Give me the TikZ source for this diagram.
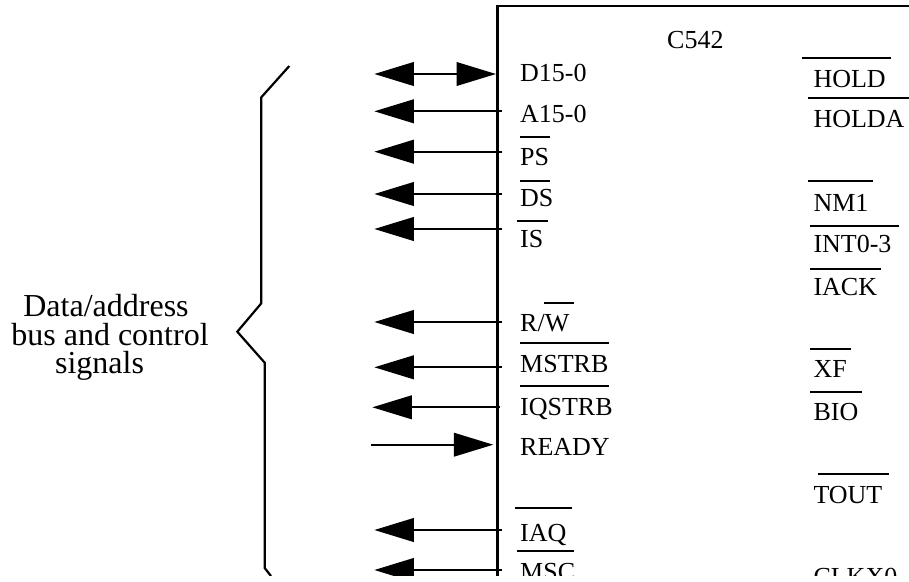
\documentclass[tikz,border=0pt]{standalone}
\usepackage{fontspec}
\setmainfont{Liberation Serif}
\usetikzlibrary{arrows.meta}
\tikzset{
  x=1pt,y=-1pt,
  pinlabel/.style={anchor=base west,inner sep=0pt,font=\fontsize{26}{30}\selectfont,text=black},
  grouplabel/.style={anchor=base,inner sep=0pt,font=\fontsize{32}{36}\selectfont,text=black},
  bar/.style={line width=2.3pt,line cap=butt},
  wire/.style={line width=2.3pt,line cap=butt},
  outp/.style={wire,-{Triangle[length=39.5pt,width=23.5pt]}},
  biwire/.style={wire,{Triangle[length=39.5pt,width=23.5pt]}-{Triangle[length=39.5pt,width=23.5pt]}},
  chip/.style={line width=2.4pt,line join=miter},
  brace/.style={line width=2.2pt,line join=miter}
}
\begin{document}
\begin{tikzpicture}
\useasboundingbox (0,0) rectangle (909,581);
\clip (0,0) rectangle (909,575);
% chip outline
\draw[chip] (909,6) -- (497.3,6) -- (497.3,581);
% brace
\draw[brace] (289.3,66) -- (261.3,97.3) -- (261.3,303.3) -- (237.3,331.7) -- (264.7,362.7) -- (264.7,568) -- (271,576);
% text
\node[pinlabel] at (667,48.3) {C542};
\node[pinlabel] (d) at (520,81) {D15-0};
\node[pinlabel] (a) at (520,122.7) {A15-0};
\node[pinlabel] (ps) at (520,165) {PS};
\node[pinlabel] (ds) at (520,206.7) {DS};
\node[pinlabel] (is) at (520,247.7) {IS};
\node[pinlabel] (rw) at (520,331) {R/W};
\node[pinlabel] (mstrb) at (520,372.7) {MSTRB};
\node[pinlabel] (iqstrb) at (520,415) {IQSTRB};
\node[pinlabel] (ready) at (520,455.7) {READY};
\node[pinlabel] (iaq) at (520,541.7) {IAQ};
\node[pinlabel] (msc) at (520,580.5) {MSC};
\node[pinlabel] at (813.3,87.3) {HOLD};
\node[pinlabel] at (813.3,127.7) {HOLDA};
\node[pinlabel] at (813.3,211.7) {NM1};
\node[pinlabel] at (813.3,252.7) {INT0-3};
\node[pinlabel] at (813.3,295) {IACK};
\node[pinlabel] at (813.3,377.7) {XF};
\node[pinlabel] at (813.3,420) {BIO};
\node[pinlabel] at (813.3,503.3) {TOUT};
\node[pinlabel] at (813.3,585.5) {CLKX0};
\node[grouplabel] at (106,316) {Data/address};
\node[grouplabel] at (110,345.7) {bus and control};
\node[grouplabel] at (99.5,373) {signals};
% overbars
\draw[bar] (520,137.3) -- (550,137.3);
\draw[bar] (520,181) -- (550,181);
\draw[bar] (517,220.7) -- (547.7,220.7);
\draw[bar] (544.3,303.3) -- (574,303.3);
\draw[bar] (520,343.3) -- (609,343.3);
\draw[bar] (520,386) -- (609,386);
\draw[bar] (515,508.3) -- (572,508.3);
\draw[bar] (517,551) -- (574,551);
\draw[bar] (802,58.3) -- (891,58.3);
\draw[bar] (808,98) -- (909,98);
\draw[bar] (808,180.7) -- (873,180.7);
\draw[bar] (810,226) -- (899,226);
\draw[bar] (810,269) -- (881,269);
\draw[bar] (810,349) -- (851,349);
\draw[bar] (810,391.7) -- (862,391.7);
\draw[bar] (818,474.3) -- (889,474.3);
% connector ends
\coordinate (dl) at (374.3,74); \coordinate (dr) at (496,74);
\coordinate (ar) at (501.7,111.3); \coordinate (al) at (374.3,111.3);
\coordinate (psr) at (501.7,151.7); \coordinate (psl) at (374.3,151.7);
\coordinate (dsr) at (501.7,194); \coordinate (dsl) at (374.3,194);
\coordinate (isr) at (501.7,229); \coordinate (isl) at (374.3,229);
\coordinate (rwr) at (501.7,322); \coordinate (rwl) at (374.3,322);
\coordinate (mr) at (501.7,367.3); \coordinate (ml) at (374.3,367.3);
\coordinate (qr) at (500,407.3); \coordinate (ql) at (372.3,407.3);
\coordinate (rdl) at (371,444.7); \coordinate (rdr) at (493.3,444.7);
\coordinate (iar) at (501.7,530); \coordinate (ial) at (374.3,530);
\coordinate (scr) at (501.7,570); \coordinate (scl) at (374.3,570);
% connectors
\draw[biwire] (dl) -- (dr);
\draw[outp] (ar) -- (al);
\draw[outp] (psr) -- (psl);
\draw[outp] (dsr) -- (dsl);
\draw[outp] (isr) -- (isl);
\draw[outp] (rwr) -- (rwl);
\draw[outp] (mr) -- (ml);
\draw[outp] (qr) -- (ql);
\draw[outp] (rdl) -- (rdr);
\draw[outp] (iar) -- (ial);
\draw[outp] (scr) -- (scl);
\end{tikzpicture}
\end{document}
